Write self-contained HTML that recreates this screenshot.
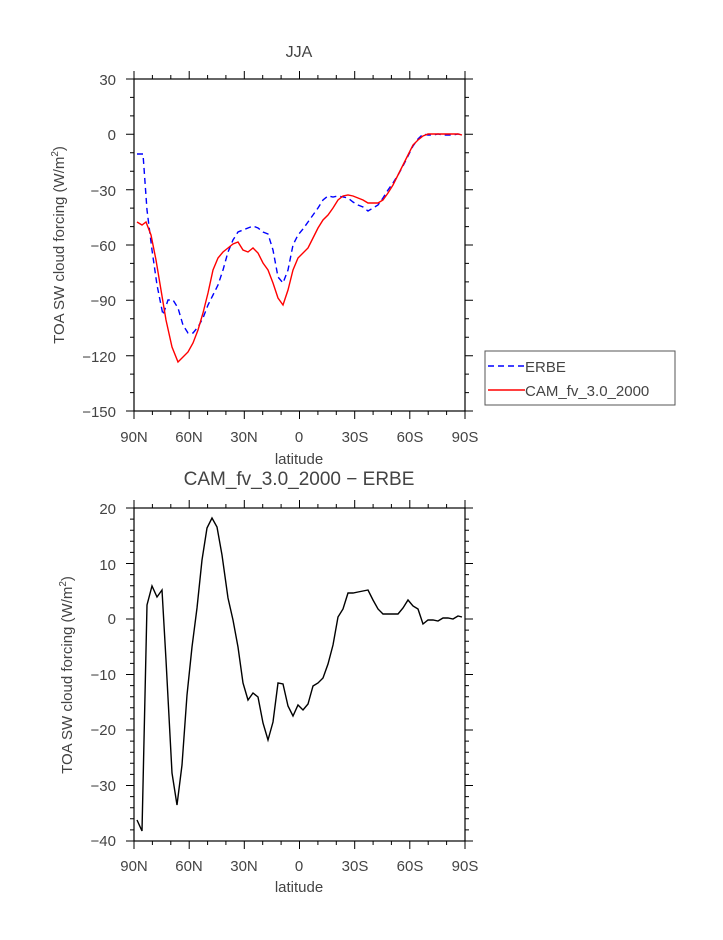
<!DOCTYPE html>
<html><head><meta charset="utf-8"><style>body{margin:0;background:#fff}</style></head><body>
<svg width="723" height="935" xmlns="http://www.w3.org/2000/svg" font-family="Liberation Sans, sans-serif" fill="#555">
<rect x="134" y="79" width="331" height="332" fill="none" stroke="#000" stroke-width="1.2"/>
<rect x="134" y="508" width="331" height="333" fill="none" stroke="#000" stroke-width="1.2"/>
<g stroke="#000" stroke-width="1" fill="none">
<!-- x ticks major -->
<path d="M134,79v-8M189.2,79v-8M244.3,79v-8M299.5,79v-8M354.7,79v-8M409.8,79v-8M465,79v-8
M134,411v8M189.2,411v8M244.3,411v8M299.5,411v8M354.7,411v8M409.8,411v8M465,411v8
M134,508v-8M189.2,508v-8M244.3,508v-8M299.5,508v-8M354.7,508v-8M409.8,508v-8M465,508v-8
M134,841v8M189.2,841v8M244.3,841v8M299.5,841v8M354.7,841v8M409.8,841v8M465,841v8"/>
<!-- x ticks minor -->
<path d="M152.4,79v-4M170.8,79v-4M207.6,79v-4M225.9,79v-4M262.7,79v-4M281.1,79v-4M317.9,79v-4M336.3,79v-4M373.1,79v-4M391.4,79v-4M428.2,79v-4M446.6,79v-4
M152.4,411v4M170.8,411v4M207.6,411v4M225.9,411v4M262.7,411v4M281.1,411v4M317.9,411v4M336.3,411v4M373.1,411v4M391.4,411v4M428.2,411v4M446.6,411v4
M152.4,508v-4M170.8,508v-4M207.6,508v-4M225.9,508v-4M262.7,508v-4M281.1,508v-4M317.9,508v-4M336.3,508v-4M373.1,508v-4M391.4,508v-4M428.2,508v-4M446.6,508v-4
M152.4,841v4M170.8,841v4M207.6,841v4M225.9,841v4M262.7,841v4M281.1,841v4M317.9,841v4M336.3,841v4M373.1,841v4M391.4,841v4M428.2,841v4M446.6,841v4"/>
<!-- top y ticks -->
<path d="M134,79h-8M134,134.3h-8M134,189.7h-8M134,245h-8M134,300.3h-8M134,355.7h-8M134,411h-8
M465,79h8M465,134.3h8M465,189.7h8M465,245h8M465,300.3h8M465,355.7h8M465,411h8
M134,97.4h-4M134,115.9h-4M134,152.8h-4M134,171.2h-4M134,208.1h-4M134,226.6h-4M134,263.4h-4M134,281.9h-4M134,318.8h-4M134,337.2h-4M134,374.1h-4M134,392.6h-4
M465,97.4h4M465,115.9h4M465,152.8h4M465,171.2h4M465,208.1h4M465,226.6h4M465,263.4h4M465,281.9h4M465,318.8h4M465,337.2h4M465,374.1h4M465,392.6h4"/>
<!-- bottom y ticks -->
<path d="M134,508h-8M134,563.5h-8M134,619h-8M134,674.5h-8M134,730h-8M134,785.5h-8M134,841h-8
M465,508h8M465,563.5h8M465,619h8M465,674.5h8M465,730h8M465,785.5h8M465,841h8
M134,519.1h-4M134,530.2h-4M134,541.3h-4M134,552.4h-4M134,574.6h-4M134,585.7h-4M134,596.8h-4M134,607.9h-4M134,630.1h-4M134,641.2h-4M134,652.3h-4M134,663.4h-4M134,685.6h-4M134,696.7h-4M134,707.8h-4M134,718.9h-4M134,741.1h-4M134,752.2h-4M134,763.3h-4M134,774.4h-4M134,796.6h-4M134,807.7h-4M134,818.8h-4M134,829.9h-4
M465,519.1h4M465,530.2h4M465,541.3h4M465,552.4h4M465,574.6h4M465,585.7h4M465,596.8h4M465,607.9h4M465,630.1h4M465,641.2h4M465,652.3h4M465,663.4h4M465,685.6h4M465,696.7h4M465,707.8h4M465,718.9h4M465,741.1h4M465,752.2h4M465,763.3h4M465,774.4h4M465,796.6h4M465,807.7h4M465,818.8h4M465,829.9h4"/>
</g>
<g font-size="15" fill="#444" text-anchor="end">
<text x="116" y="85">30</text><text x="116" y="140">0</text><text x="116" y="196">−30</text><text x="116" y="251">−60</text><text x="116" y="306">−90</text><text x="116" y="362">−120</text><text x="116" y="417">−150</text>
<text x="116" y="514">20</text><text x="116" y="570">10</text><text x="116" y="624">0</text><text x="116" y="680">−10</text><text x="116" y="735">−20</text><text x="116" y="791">−30</text><text x="116" y="846">−40</text>
</g>
<g font-size="15" fill="#444" text-anchor="middle">
<text x="134" y="442">90N</text><text x="189" y="442">60N</text><text x="244" y="442">30N</text><text x="299" y="442">0</text><text x="355" y="442">30S</text><text x="410" y="442">60S</text><text x="465" y="442">90S</text>
<text x="134" y="871">90N</text><text x="189" y="871">60N</text><text x="244" y="871">30N</text><text x="299" y="871">0</text><text x="355" y="871">30S</text><text x="410" y="871">60S</text><text x="465" y="871">90S</text>
<text x="299" y="464">latitude</text><text x="299" y="892">latitude</text>
<text x="299" y="57" font-size="16">JJA</text>
<text x="299" y="485" font-size="19">CAM_fv_3.0_2000 − ERBE</text>
<text transform="translate(64,245) rotate(-90)" font-size="15">TOA SW cloud forcing (W/m<tspan dy="-6" font-size="10">2</tspan><tspan dy="6">)</tspan></text>
<text transform="translate(72,675) rotate(-90)" font-size="15">TOA SW cloud forcing (W/m<tspan dy="-6" font-size="10">2</tspan><tspan dy="6">)</tspan></text>
</g>
<polyline fill="none" stroke="#0000ff" stroke-width="1.4" stroke-dasharray="6,4" points="137,154 143,154 147,210 152,250 157,285 163,315 168,300 173,300 178,308 183,325 188,333 193,333 198,327 203,318 208,305 213,295 218,285 223,270 228,252 233,240 238,232 243,230 248,228 253,226 258,228 263,232 268,234 273,250 278,277 283,283 288,270 293,245 298,235 303,229 308,222 313,215 318,208 323,200 328,196 333,197 338,196 343,197 348,198 353,202 358,205 363,207 368,211 373,208 378,205 383,198 388,190 393,183 398,175 403,166 408,156 413,146 418,139 423,134 428,135 433,135 438,134 443,135 448,135 453,135 458,134 462,135"/>
<polyline fill="none" stroke="#ff0000" stroke-width="1.4" points="137,222 142,225 146,222 151,235 156,260 161,290 166,320 172,347 178,362 183,357 188,352 193,343 198,330 203,313 208,293 213,270 218,258 223,252 228,248 233,244 238,242 243,250 248,252 253,248 258,253 263,263 268,270 273,283 278,298 283,305 288,290 293,270 298,258 303,253 308,248 313,238 318,228 323,220 328,215 333,208 338,200 343,196 348,195 353,196 358,198 363,200 368,203 373,203 378,203 383,200 388,193 393,185 398,175 403,165 408,155 413,145 418,140 423,136 428,134 433,134 438,134 443,134 448,134 453,134 458,134 462,135"/>
<polyline fill="none" stroke="#000" stroke-width="1.4" points="137,820 142,831 147,605 152,586 157,597 162,590 166,660 172,773 177,805 182,765 187,695 192,647 197,608 202,560 207,528 212,518 217,527 222,555 228,598 233,620 238,647 243,683 248,700 253,693 258,697 263,723 268,740 273,722 278,683 283,684 288,706 293,716 298,705 303,710 308,704 313,686 318,683 323,678 328,664 333,645 338,617 343,609 348,593 353,593 358,592 363,591 368,590 373,600 378,609 383,614 388,614 393,614 398,614 403,608 408,600 413,606 418,609 423,624 428,620 433,620 438,621 443,618 448,618 453,619 458,616 462,617"/>
<rect x="485" y="351" width="190" height="54" fill="#fff" stroke="#555" stroke-width="1"/>
<line x1="488" y1="366" x2="525" y2="366" stroke="#0000ff" stroke-width="1.4" stroke-dasharray="6,4"/>
<line x1="488" y1="390" x2="525" y2="390" stroke="#ff0000" stroke-width="1.4"/>
<text x="525" y="372" font-size="15" fill="#444">ERBE</text>
<text x="525" y="396" font-size="15" fill="#444">CAM_fv_3.0_2000</text>
</svg>
</body></html>
